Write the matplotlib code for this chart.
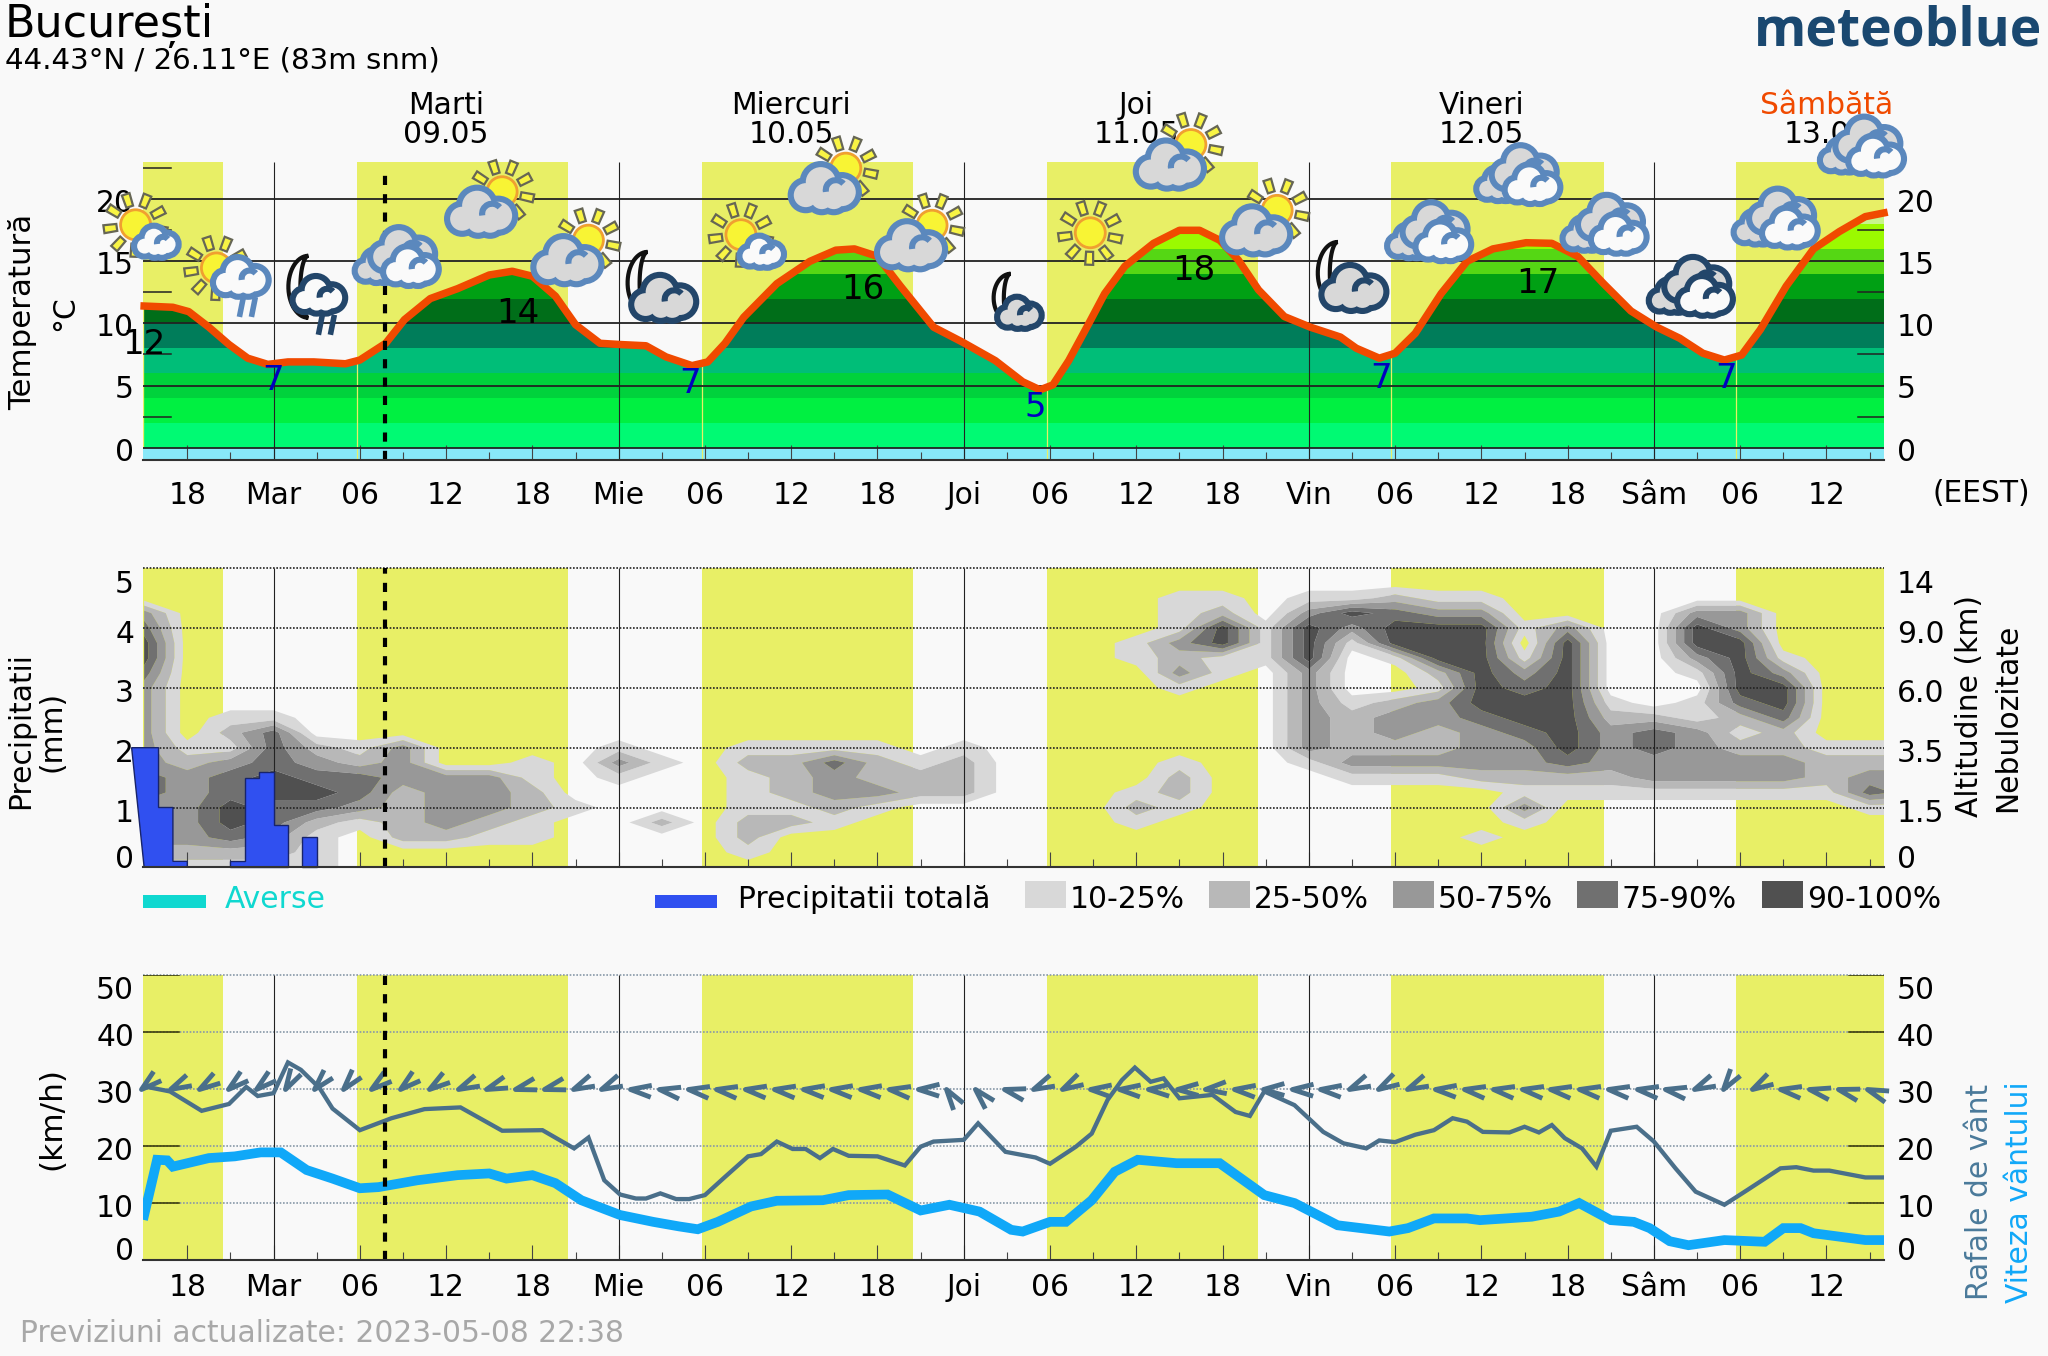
"""
Bucuresti 5-day meteogram: temperature, clouds/precipitation, wind.
Hours are counted from Tuesday 00:00 local time.
"""
import numpy as np
import matplotlib
matplotlib.use('Agg')
import matplotlib.pyplot as plt
from matplotlib.markers import MarkerStyle
from matplotlib.patches import Arc, Circle, Polygon, Rectangle
from matplotlib.path import Path
from matplotlib.transforms import Affine2D, offset_copy

W, H = 2048, 1356
BG = '#f9f9f9'
YELLOW = '#e8ef66'
GUST_C = '#4a6f8a'
SPEED_C = '#10a8f8'
FS = 21.4

XMIN, XMAX = -9.08, 112
sunrise = [-30, 5.78, 29.78, 53.78, 77.73, 101.73]
sunset = [-3.5, 20.45, 44.5, 68.45, 92.5, 116.5]
midnights = [0, 24, 48, 72, 96]
tick_hours = [-6, 0, 6, 12, 18, 24, 30, 36, 42, 48, 54, 60, 66, 72, 78, 84, 90, 96, 102, 108]
tick_labels = ['18', 'Mar', '06', '12', '18', 'Mie', '06', '12', '18', 'Joi', '06', '12', '18',
               'Vin', '06', '12', '18', 'Sâm', '06', '12']
minor_hours = [-3, 3, 9, 15, 21, 27, 33, 39, 45, 51, 57, 63, 69, 75, 81, 87, 93, 99, 105, 111]
now_hour = 7.76

day_hours = [12, 36, 60, 84, 108]
day_names = ['Marti', 'Miercuri', 'Joi', 'Vineri', 'Sâmbătă']
day_dates = ['09.05', '10.05', '11.05', '12.05', '13.05']

temp_hours = [-9, -7, -5.9, -4.5, -3.1, -1.8, -0.4, 1, 2.8, 5, 6, 7.8, 9.1, 10.9, 12.8, 15, 16.6, 18,
              19.6, 21, 22.7, 24.1, 25.9, 27.3, 29.1, 30.2, 31.4, 32.7, 35, 37.3, 39.1, 40.4, 42,
              43.6, 45.9, 47.9, 50.2, 52.1, 53.3, 54.2, 55.3, 56.7, 57.8, 59.2, 61.2, 63, 64.4,
              65.8, 67.1, 68.5, 70.3, 72.1, 74.2, 75.3, 76.9, 78, 79.4, 81.2, 83, 84.8, 87.1,
              88.9, 90.7, 92.5, 94.4, 96.2, 97.8, 99.4, 100.9, 102.1, 103.4, 105.2, 107.1, 108.9,
              110.7, 112]
temp_values = [11.4, 11.3, 10.95, 9.7, 8.3, 7.2, 6.7, 6.9, 6.9, 6.75, 7.05, 8.4, 10.3, 12, 12.8, 13.9,
               14.2, 13.8, 12.2, 9.9, 8.4, 8.3, 8.2, 7.3, 6.6, 6.9, 8.4, 10.5, 13.2, 15, 15.9, 16,
               15.4, 13, 9.7, 8.5, 7, 5.3, 4.65, 5.05, 7, 10, 12.4, 14.6, 16.45, 17.5, 17.5, 16.7,
               15.1, 12.7, 10.55, 9.7, 8.9, 8, 7.2, 7.6, 9.2, 12.4, 15, 16, 16.5, 16.45, 15.4, 13.2,
               11, 9.7, 8.8, 7.6, 7.05, 7.45, 9.5, 13, 16, 17.4, 18.6, 18.9]

temp_bands = [0, 2, 4, 6, 8, 10, 12, 14, 16, 18, 20]
band_colors = ['#00fa73', '#00f041', '#00d23c', '#00be78', '#007d5a', '#006e19', '#00a014',
               '#55d714', '#9bfa00', '#c8f58c']

max_hours = [-9, 17, 41, 64, 87.9]
max_levels = [8.3, 10.8, 12.7, 14.3, 13.2]
max_labels = ['12', '14', '16', '18', '17']
min_hours = [0, 29, 53, 77, 101]
min_levels = [5.4, 5.2, 3.2, 5.6, 5.6]
min_labels = ['7', '7', '5', '7', '7']

icon_hours = [-8.9, -3, 2.7, 8.9, 15.2, 21.2, 26.5, 33.2, 39.1, 45.1, 51.4, 56.8, 63.1, 69.1, 74.5,
              80.7, 86.9, 92.9, 98.9, 104.8, 110.8]
icon_levels = [17.3, 13.1, 11.5, 15.5, 19.8, 15.9, 12.7, 16.5, 21.7, 17.1, 11.5, 17.3, 23.6, 18.3,
               13.5, 17.5, 22.1, 18.1, 13.1, 18.6, 24.4]
icon_kinds = ['sun_white', 'sun_rain', 'moon_rain', 'double', 'sun_grey', 'sun_grey', 'moon_grey',
              'sun_white', 'sun_grey', 'sun_grey', 'moon_small', 'sun', 'sun_grey', 'sun_grey',
              'moon_grey', 'double', 'double', 'double', 'double_dark', 'double', 'double']

# cloud class per 3 h column (-9 ... 114): 0 none, 1 10-25%, 2 25-50%, 3 50-75%, 4 75-90%, 5 90-100%
cloud_hours = np.arange(-9, 115, 3)
cloud_levels = np.arange(0, 5, 0.25)
cloud_rows = [
    '111110 000000 000000 000000 000000 000000 000000',
    '222210 000000 001000 000000 000000 000000 000000',
    '334310 221100 002000 000000 000000 010000 000000',
    '335421 232100 202210 000001 000000 001000 000000',
    '335443 233210 001121 000002 100000 003000 000011',
    '434554 233200 001233 220001 200000 001111 111143',
    '434544 333101 001232 220000 200011 122223 333233',
    '323432 300103 102242 120000 100133 333433 333222',
    '311421 300001 001111 010000 000322 233534 322111',
    '302400 000000 000000 000000 000323 234534 312000',
    '301100 000000 000000 000000 000323 345522 124000',
    '300000 000000 000000 000000 000312 355510 145000',
    '300000 000000 000000 000000 100300 154500 055000',
    '400000 000000 000000 000000 310300 253500 153000',
    '500000 000000 000000 000001 211501 551500 351000',
    '500000 000000 000000 000001 351515 550500 550000',
    '400000 000000 000000 000000 151535 551300 530000',
    '300000 000000 000000 000000 120354 330000 330000',
    '000000 000000 000000 000000 110112 110000 000000',
    '000000 000000 000000 000000 000000 000000 000000',
]
cloud_colors = ['#d8d8d8', '#b8b8b8', '#989898', '#707070', '#505050']
cloud_legend = ['10-25%', '25-50%', '50-75%', '75-90%', '90-100%']

rain_x = [-9, -9.87, -8, -8, -7, -7, -6, -6]
rain_y = [0, 2, 2, 1, 1, 0.1, 0.1, 0]
rain2_x = [-3, -3, -2, -2, -1, -1, 0, 0, 1, 1]
rain2_y = [0, 0.1, 0.1, 1.5, 1.5, 1.6, 1.6, 0.7, 0.7, 0]
rain3_x = [2, 2, 3, 3]
rain3_y = [0, 0.5, 0.5, 0]

gust_hours = [-9, -7.2, -5, -3.1, -1.9, -1.1, 0, 1, 1.9, 3.2, 4.1, 6, 8.2, 10.5, 13, 15.9, 18.7, 20.9,
              21.9, 23, 24.1, 25.2, 25.9, 26.9, 28, 28.9, 30, 31.4, 33, 33.9, 35, 36.1, 37, 38, 38.9,
              40, 42, 43.9, 45, 45.9, 48, 49, 50.9, 53, 54, 55.8, 56.9, 58, 59, 59.9, 61, 61.9, 63,
              65.3, 66.9, 67.9, 68.9, 71, 73, 74.4, 76, 76.9, 78, 79.4, 80.7, 82, 83, 84.1, 85.95,
              87, 88, 88.9, 89.8, 91, 92, 93, 94.8, 96, 97.5, 98.9, 100.9, 102.5, 104.8, 105.9,
              107.1, 108.2, 110.7, 112]
gust_values = [30.5, 29.6, 26.2, 27.4, 30.4, 28.8, 29.3, 34.7, 33.4, 30.2, 26.6, 22.8, 24.9, 26.5, 26.8,
               22.7, 22.8, 19.6, 21.5, 14, 11.5, 10.8, 10.8, 11.7, 10.7, 10.7, 11.4, 14.6, 18.2, 18.6,
               20.8, 19.5, 19.5, 17.9, 19.5, 18.3, 18.2, 16.6, 19.9, 20.8, 21.1, 24, 19, 18, 16.9,
               19.9, 22.2, 28.1, 31.6, 33.8, 31.3, 31.9, 28.4, 29, 26, 25.3, 29.6, 27.2, 22.5, 20.5,
               19.6, 21, 20.7, 22, 22.8, 24.9, 24.3, 22.5, 22.4, 23.4, 22.4, 23.7, 21.4, 19.6, 16.4,
               22.7, 23.4, 20.8, 16.1, 12, 9.7, 12.3, 16.1, 16.3, 15.7, 15.7, 14.5, 14.5]

speed_hours = [-9, -8.1, -7.4, -7, -4.5, -2.7, -0.9, 0.5, 2.3, 4.1, 6, 7.3, 10, 12.8, 15, 16.2, 18, 19.6,
               21.4, 24.1, 26.4, 28.2, 29.5, 30.9, 33.2, 35, 38.2, 40, 42.7, 45, 47, 49.1, 51.3, 52.1,
               54, 55.1, 56.9, 58.5, 60.1, 62.8, 65.8, 68.9, 71, 74, 77.6, 78.9, 80.7, 83, 83.9, 87.5,
               89.4, 90.8, 93, 94.6, 95.7, 97.1, 98.4, 100.9, 103.7, 105, 106.2, 107.1, 110.7, 112]
speed_values = [7.9, 17.6, 17.5, 16.4, 17.9, 18.2, 18.9, 18.9, 15.8, 14.3, 12.6, 12.8, 14, 14.9, 15.2, 14.3,
                14.9, 13.5, 10.5, 7.9, 6.7, 5.9, 5.4, 6.7, 9.4, 10.4, 10.5, 11.4, 11.5, 8.7, 9.7, 8.5,
                5.3, 5, 6.7, 6.7, 10.5, 15.5, 17.6, 17, 17, 11.4, 10, 6.1, 5, 5.6, 7.3, 7.3, 7, 7.6, 8.5,
                10, 7, 6.7, 5.6, 3.3, 2.6, 3.5, 3.2, 5.6, 5.6, 4.7, 3.5, 3.5]

# direction each chevron points to, degrees counter-clockwise from east, every 2 h
wind_hours = np.arange(-9.2, 111, 2)
wind_dirs = [220, 206, 213, 220, 220, 240, 228, 230, 218, 220, 215, 205, 200, 195, 195, 205, 205,
             175, 170, 172, 172, 173, 173, 174, 174, 174, 172, 178, 125, 133, 166,
             205, 209, 176, 176, 178, 180, 185, 175, 180, 178, 175, 205, 210, 205, 175, 172, 172,
             172, 172, 172, 172, 172, 170, 205, 235, 210, 172, 168, 165, 160]

fig = plt.figure(figsize=(W / 100, H / 100), dpi=100, facecolor=BG)


def add_panel(top, bottom, ylim):
    ax = fig.add_axes([143 / W, 1 - bottom / H, 1741 / W, (bottom - top) / H])
    ax.patch.set_alpha(0)
    ax.set_xlim(XMIN, XMAX)
    ax.set_ylim(*ylim)
    for name in ['top', 'left', 'right']:
        ax.spines[name].set_visible(False)
    ax.spines['bottom'].set_color('#333333')
    ax.spines['bottom'].set_linewidth(1.5)
    ax.spines['bottom'].set_zorder(8)
    for sr, ss in zip(sunrise, sunset):
        ax.axvspan(sr, ss, color=YELLOW, lw=0, zorder=0)
    ax.vlines(midnights, ylim[0], ylim[1], color='#222222', lw=0.8, zorder=3)
    ax.set_yticks([])
    ax.set_xticks(tick_hours)
    ax.set_xticks(minor_hours, minor=True)
    ax.tick_params(axis='x', which='major', direction='in', length=10.5, width=0.8, color='#444444')
    ax.tick_params(axis='x', which='minor', direction='in', length=5.5, width=0.8, color='#444444')
    for tk in ax.xaxis.get_major_ticks() + ax.xaxis.get_minor_ticks():
        tk.tick1line.set_zorder(7)
    return ax


def side_labels(ax, values, labels, offsets):
    for v, lab, off in zip(values, labels, offsets):
        for xa, ha, dx in [(0, 'right', -9), (1, 'left', 13)]:
            tr = offset_copy(ax.get_yaxis_transform(), fig=fig, x=dx, y=-off, units='dots')
            ax.text(xa, v, lab, ha=ha, va='center', fontsize=FS, transform=tr, clip_on=False)


def short_ticks(ax, values, wl, wr, color):
    trans = ax.get_yaxis_transform()
    for v in values:
        ax.plot([0, wl / 1741], [v, v], color=color, lw=1.1, transform=trans, zorder=4)
        ax.plot([1 - wr / 1741, 1], [v, v], color=color, lw=1.1, transform=trans, zorder=4)


# --- temperature ---
ax1 = add_panel(162, 460, (-1, 23))
ax1.set_xticklabels(tick_labels, fontsize=FS)
ax1.tick_params(axis='x', which='major', pad=15)

under = ax1.fill_between(temp_hours, -1, temp_values, color='none', lw=0)
clip_path = under.get_paths()[0]
for lo, hi, col in zip(temp_bands[:-1], temp_bands[1:], band_colors):
    band = ax1.axhspan(lo, hi, color=col, lw=0, zorder=1)
    band.set_clip_path(clip_path, under.get_transform())
ax1.axhspan(-1, 0, color='#88e8f8', lw=0, zorder=1.5)
for sr in sunrise[1:]:
    seam = ax1.axvline(sr, color=YELLOW, lw=0.9, zorder=2)
    seam.set_clip_path(clip_path, under.get_transform())

ax1.hlines([0, 5, 10, 15, 20], XMIN, XMAX, color='#222222', lw=1.3, zorder=4)
short_ticks(ax1, [2.5, 7.5, 12.5, 17.5], 28, 26, '#222222')
ax1.plot([0, 28 / 1741], [22.5, 22.5], color='#222222', lw=1.1, transform=ax1.get_yaxis_transform())
ax1.plot(temp_hours, temp_values, color='#f04a00', lw=5.4, zorder=5, solid_joinstyle='round',
         clip_on=False)
side_labels(ax1, [0, 5, 10, 15, 20], ['0', '5', '10', '15', '20'], [4.5] * 5)

for h, v, lab in zip(max_hours, max_levels, max_labels):
    ax1.text(h, v, lab, fontsize=24.5, ha='center', va='center', color='black', zorder=6, clip_on=False)
for h, v, lab in zip(min_hours, min_levels, min_labels):
    ax1.text(h, v, lab, fontsize=24.5, ha='center', va='center', color='#0000c0', zorder=6)

for h, nm, dt in zip(day_hours, day_names, day_dates):
    col = '#f04a00' if nm == 'Sâmbătă' else 'black'
    ax1.text(h, 27.55, nm, fontsize=FS, ha='center', va='center', color=col, clip_on=False)
    ax1.text(h, 25.2, dt, fontsize=FS, ha='center', va='center', clip_on=False)
ax1.vlines(now_hour, -1, 22.5, color='black', lw=3, linestyles=(0, (2.2, 2.2)), zorder=7)

# --- clouds and precipitation ---
ax2 = add_panel(568.3, 867.3, (0, 5))
ax2.set_xticklabels([])
cloud_grid = np.array([[int(c) for c in row.replace(' ', '')] for row in cloud_rows])
ax2.contourf(cloud_hours, cloud_levels, cloud_grid, levels=[0.5, 1.5, 2.5, 3.5, 4.5, 6],
             colors=cloud_colors, zorder=1, antialiased=True)
ax2.hlines([1, 2, 3, 4, 5], XMIN, XMAX, color='#222222', lw=1.2, linestyles=(0, (1, 1)), zorder=3,
           clip_on=False)
for xs, ys in [(rain_x, rain_y), (rain2_x, rain2_y), (rain3_x, rain3_y)]:
    ax2.fill(xs, ys, facecolor='#3050f0', edgecolor='#18246a', lw=1, zorder=5, clip_on=False)
ax2.vlines(now_hour, 0, 5, color='black', lw=3, linestyles=(0, (2.2, 2.2)), zorder=7)
side_off = [-8, 6, 6, 6, 6, 16]
for v, left, right, off in zip(range(6), ['0', '1', '2', '3', '4', '5'],
                               ['0', '1.5', '3.5', '6.0', '9.0', '14'], side_off):
    tr = offset_copy(ax2.get_yaxis_transform(), fig=fig, x=-9, y=-off, units='dots')
    ax2.text(0, v, left, ha='right', va='center', fontsize=FS, transform=tr, clip_on=False)
    tr = offset_copy(ax2.get_yaxis_transform(), fig=fig, x=13, y=-off, units='dots')
    ax2.text(1, v, right, ha='left', va='center', fontsize=FS, transform=tr, clip_on=False)

# --- wind ---
ax3 = add_panel(975.3, 1260, (0, 50))
ax3.set_xticklabels(tick_labels, fontsize=FS)
ax3.tick_params(axis='x', which='major', pad=9.5)
ax3.hlines([10, 20, 30, 40, 50], XMIN, XMAX, color='#8898a8', lw=1.2, linestyles=(0, (1, 1)), zorder=1,
           clip_on=False)
short_ticks(ax3, [10, 20, 40, 50], 36, 35, '#333300')
ax3.plot(gust_hours, gust_values, color=GUST_C, lw=3.1, zorder=4, solid_joinstyle='miter')
ax3.plot(speed_hours, speed_values, color=SPEED_C, lw=7, zorder=5, solid_joinstyle='miter')

barb = Path([(22, -6.3), (0, 0), (22, 6.3)], [Path.MOVETO, Path.LINETO, Path.LINETO])
for h, d in zip(wind_hours, wind_dirs):
    mk = MarkerStyle(barb, transform=Affine2D().rotate_deg(d - 180))
    ax3.plot([h], [30], marker=mk, ms=30, mfc='none', mec=GUST_C, mew=3.5, ls='none', zorder=6,
             clip_on=False)
ax3.vlines(now_hour, 0, 50, color='black', lw=3, linestyles=(0, (2.2, 2.2)), zorder=7)
side_labels(ax3, [10, 20, 30, 40], ['10', '20', '30', '40'], [5.5] * 4)
side_labels(ax3, [0, 50], ['0', '50'], [-8, 15.5])

# --- overlay in image pixels: icons, legends and free text ---
ov = fig.add_axes([0, 0, 1, 1], zorder=10)
ov.set_xlim(0, W)
ov.set_ylim(H, 0)
ov.axis('off')


def draw_sun(cx, cy, r=15):
    for ang in np.arange(0, 360, 40) + 12:
        a = np.deg2rad(ang)
        u = np.array([np.cos(a), np.sin(a)])
        n = np.array([-u[1], u[0]])
        c = np.array([cx, cy])
        pts = [c + u * (r + 4) - n * 3.5, c + u * (r + 17) - n * 4, c + u * (r + 17) + n * 4,
               c + u * (r + 4) + n * 3.5]
        ov.add_patch(Polygon(pts, fc='#f8f444', ec='#666655', lw=1.6))
    ov.add_patch(Circle((cx, cy), r, fc='#f8f434', ec='#f0a030', lw=2))


def draw_cloud(cx, cy, s, face, edge, lw=4.4):
    blobs = [(-21, 7, 12), (-6, -6, 15), (15, 4, 14), (-5, 10, 11), (7, 10, 11)]
    for x, y, r in blobs:
        ov.add_patch(Circle((cx + x * s, cy + y * s), r * s, fc=edge, ec=edge, lw=lw * 2))
    for x, y, r in blobs:
        ov.add_patch(Circle((cx + x * s, cy + y * s), r * s, fc=face, ec='none'))
    ov.add_patch(Arc((cx + 9 * s, cy + 2 * s), 20 * s, 20 * s, theta1=170, theta2=320, color=edge, lw=lw))


def draw_double(cx, cy, edge):
    draw_cloud(cx - 22, cy + 11, 0.66, '#d8d8d8', edge)
    draw_cloud(cx + 3, cy - 5, 0.95, '#d8d8d8', edge)
    draw_cloud(cx + 11, cy + 11, 0.8, '#fafafa', edge)


def draw_moon(cx, cy, a=20, b=31):
    t = np.linspace(-np.pi / 2, np.pi / 2, 30)
    outer = np.column_stack([cx - a * np.cos(t) + 8, cy + b * np.sin(t)])
    inner = np.column_stack([cx - 0.4 * a * np.cos(t[::-1]) + 8, cy + b * np.sin(t[::-1])])
    ov.add_patch(Polygon(np.vstack([outer, inner]), fc='#fafafa', ec='#111111', lw=3))


def draw_rain(cx, cy, col):
    for dx in (-6, 6):
        ov.plot([cx + dx + 2, cx + dx - 2], [cy - 10, cy + 10], color=col, lw=4, solid_capstyle='butt')


def draw_icon(kind, x, y):
    blue = '#5b88bd'
    dark = '#23466a'
    if kind == 'sun':
        draw_sun(x, y)
    elif kind == 'sun_white':
        draw_sun(x - 10, y - 8)
        draw_cloud(x + 12, y + 9, 0.62, '#fafafa', blue)
    elif kind == 'sun_rain':
        draw_sun(x - 14, y - 17)
        draw_cloud(x + 12, y - 8, 0.8, '#fafafa', blue)
        draw_rain(x + 17, y + 22, blue)
    elif kind == 'sun_grey':
        draw_sun(x + 10, y - 10)
        draw_cloud(x - 9, y + 10, 1, '#d8d8d8', blue)
    elif kind == 'moon_rain':
        draw_moon(x - 12, y - 18)
        draw_cloud(x + 8, y - 10, 0.75, '#fafafa', dark)
        draw_rain(x + 14, y + 20, dark)
    elif kind == 'moon_grey':
        draw_moon(x - 15, y - 7)
        draw_cloud(x + 11, y + 8, 0.95, '#d8d8d8', dark)
    elif kind == 'moon_small':
        draw_moon(x - 10, y - 7, 17, 24)
        draw_cloud(x + 8, y + 8, 0.62, '#d8d8d8', dark)
    elif kind == 'double':
        draw_double(x, y, blue)
    elif kind == 'double_dark':
        draw_double(x, y, dark)


for h, v, kind in zip(icon_hours, icon_levels, icon_kinds):
    px, py = ax1.transData.transform((h, v))
    draw_icon(kind, px, H - py)

ov.text(5, 25, 'București', fontsize=32, ha='left', va='center')
ov.text(5, 60, '44.43°N / 26.11°E (83m snm)', fontsize=FS - 0.3, ha='left', va='center')
ov.text(2042, 31, 'meteoblue', fontsize=38.5, family='Open Sans', fontweight='bold', color='#1a4870',
        ha='right', va='center')
ov.text(1981, 493, '(EEST)', fontsize=FS, ha='center', va='center')
ov.text(20, 1334, 'Previziuni actualizate: 2023-05-08 22:38', fontsize=FS, color='#a8a8a8',
        ha='left', va='center')

rot_labels = [(23, 312, 'Temperatură', 'black', 22.2), (65, 313, '°C', 'black', FS),
              (21, 731, 'Precipitatii', 'black', FS), (52, 731, '(mm)', 'black', FS),
              (1969, 706, 'Altitudine (km)', 'black', FS), (2008, 718, 'Nebulozitate', 'black', FS),
              (52, 1118, '(km/h)', 'black', 22.4), (1979, 1192, 'Rafale de vânt', '#4a7a9a', FS),
              (2019, 1192, 'Viteza vântului', SPEED_C, FS)]
for x, y, lab, col, fs in rot_labels:
    ov.text(x, y, lab, rotation=90, fontsize=fs, color=col, ha='center', va='center')

ov.add_patch(Rectangle((143, 895), 63, 13, fc='#10d8d0', ec='none'))
ov.text(225, 900, 'Averse', fontsize=FS, color='#10d8d0', ha='left', va='center')
ov.add_patch(Rectangle((655, 895), 62, 13, fc='#3050f0', ec='none'))
ov.text(738, 900, 'Precipitatii totală', fontsize=FS, ha='left', va='center')
for x, col, lab in zip([1025, 1209, 1393, 1577, 1762], cloud_colors, cloud_legend):
    ov.add_patch(Rectangle((x, 881), 41, 27, fc=col, ec='none'))
    ov.text(x + 45, 900, lab, fontsize=FS, ha='left', va='center')

fig.savefig('out.png', dpi=100, facecolor=BG)
print('saved')
